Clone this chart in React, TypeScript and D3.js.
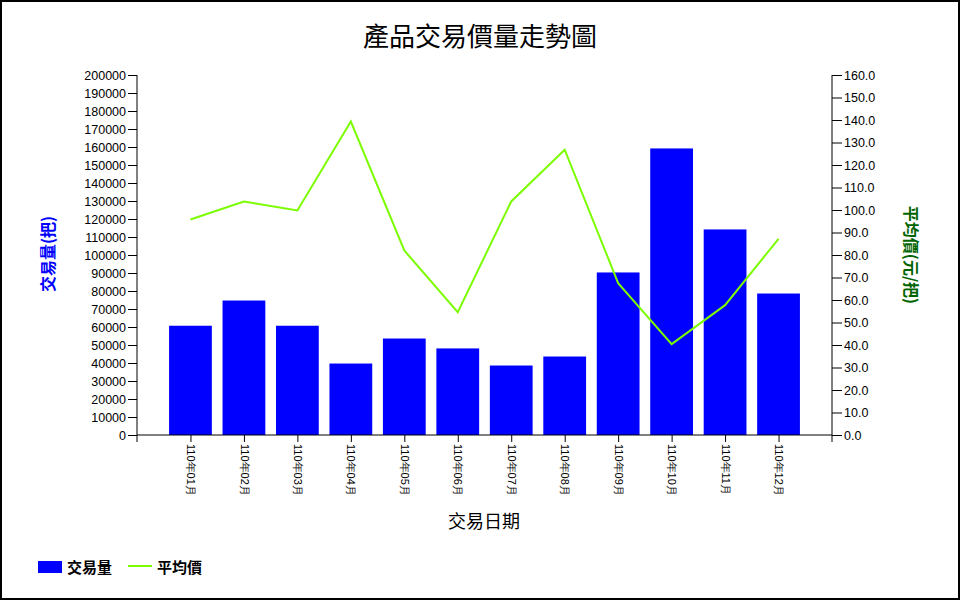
import React, { useEffect, useRef } from 'react';
import * as d3 from 'd3';

// monthly data
const months = ['110年01月', '110年02月', '110年03月', '110年04月', '110年05月', '110年06月',
  '110年07月', '110年08月', '110年09月', '110年10月', '110年11月', '110年12月'];
const volumes = [60700, 74700, 60700, 39700, 53600, 48100, 38600, 43600, 90300, 159200, 114200, 78600];
const prices = [95.8, 103.8, 99.8, 139.3, 82.0, 54.6, 103.8, 126.8, 67.5, 40.4, 57.7, 87.2];
const volTicks = d3.range(0, 200001, 10000);
const priceTicks = d3.range(0, 161, 10);

const App: React.FC = () => {
  const svgRef = useRef<SVGSVGElement>(null);

  useEffect(() => {
    if (!svgRef.current) return;
    const width = 960;
    const height = 600;
    const svg = d3.select(svgRef.current);
    svg.selectAll('*').remove();

    const left = 137;
    const right = 832;
    const top = 75;
    const bottom = 435;
    const numFont = '"Liberation Sans", Arial, sans-serif';
    const cjkFont = '"Noto Sans CJK TC", "Noto Sans CJK SC", sans-serif';

    svg.append('rect')
      .attr('x', 1).attr('y', 1)
      .attr('width', width - 2).attr('height', height - 2)
      .attr('fill', '#fff')
      .attr('stroke', '#000')
      .attr('stroke-width', 2);

    // 13 intervals, months sit on positions 1..12
    const x = d3.scaleLinear().domain([0, 13]).range([left, right]);
    const step = x(1) - x(0);
    const yVol = d3.scaleLinear().domain([0, 200000]).range([bottom, top]);
    const yPrice = d3.scaleLinear().domain([0, 160]).range([bottom, top]);

    // bars
    svg.append('g')
      .selectAll('rect')
      .data(volumes)
      .join('rect')
      .attr('x', (_, i) => x(i + 1) - step * 0.4)
      .attr('width', step * 0.8)
      .attr('y', d => yVol(d))
      .attr('height', d => yVol(0) - yVol(d))
      .attr('fill', '#0000ff');

    // price line
    const line = d3.line<number>()
      .x((_, i) => x(i + 1))
      .y(d => yPrice(d));
    svg.append('path')
      .datum(prices)
      .attr('d', line)
      .attr('fill', 'none')
      .attr('stroke', '#7cfc00')
      .attr('stroke-width', 2);

    // left axis
    const leftAxis = svg.append('g')
      .attr('transform', `translate(${left},0)`)
      .call(d3.axisLeft(yVol).tickValues(volTicks).tickFormat(d3.format('d')).tickSize(9).tickPadding(2).tickSizeOuter(0));
    leftAxis.select('.domain').attr('d', `M0,${top}V${bottom + 7}`);

    // right axis
    const rightAxis = svg.append('g')
      .attr('transform', `translate(${right},0)`)
      .call(d3.axisRight(yPrice).tickValues(priceTicks).tickFormat(d3.format('.1f')).tickSize(10).tickPadding(2).tickSizeOuter(0));
    rightAxis.select('.domain').attr('d', `M0,${top}V${bottom + 7}`);

    // bottom axis
    const bottomAxis = svg.append('g')
      .attr('transform', `translate(0,${bottom})`)
      .call(d3.axisBottom(x).tickValues(d3.range(1, 13)).tickFormat((_, i) => months[i]).tickSize(7).tickSizeOuter(0));
    bottomAxis.select('.domain').attr('d', `M${left},0H${right}`);
    bottomAxis.selectAll('.tick text')
      .attr('transform', 'rotate(90)')
      .attr('x', 9)
      .attr('y', 0)
      .attr('dy', '0.35em')
      .attr('text-anchor', 'start')
      .style('font-size', '11px');

    svg.selectAll('.tick text')
      .attr('fill', '#000')
      .style('font-family', numFont);
    leftAxis.selectAll('.tick text').style('font-size', '12.5px');
    rightAxis.selectAll('.tick text').style('font-size', '12.5px');
    svg.selectAll('.tick line, .domain').attr('stroke', '#000');

    // titles
    svg.append('text')
      .attr('x', 480).attr('y', 34)
      .attr('text-anchor', 'middle')
      .attr('dominant-baseline', 'central')
      .style('font-family', cjkFont)
      .style('font-size', '26px')
      .text('產品交易價量走勢圖');

    svg.append('text')
      .attr('x', 484).attr('y', 520)
      .attr('text-anchor', 'middle')
      .attr('dominant-baseline', 'central')
      .style('font-family', cjkFont)
      .style('font-size', '18px')
      .text('交易日期');

    svg.append('text')
      .attr('transform', 'translate(47,254) rotate(-90)')
      .attr('text-anchor', 'middle')
      .attr('dominant-baseline', 'central')
      .attr('fill', '#0000ff')
      .style('font-family', cjkFont)
      .style('font-size', '16px')
      .style('font-weight', 'bold')
      .text('交易量(把)');

    svg.append('text')
      .attr('transform', 'translate(912,255) rotate(90)')
      .attr('text-anchor', 'middle')
      .attr('dominant-baseline', 'central')
      .attr('fill', '#006400')
      .style('font-family', cjkFont)
      .style('font-size', '16px')
      .style('font-weight', 'bold')
      .text('平均價(元/把)');

    // legend
    const legend = svg.append('g');
    legend.append('rect')
      .attr('x', 38).attr('y', 561)
      .attr('width', 24).attr('height', 12)
      .attr('fill', '#0000ff');
    legend.append('text')
      .attr('x', 67).attr('y', 566)
      .attr('dominant-baseline', 'central')
      .style('font-family', cjkFont)
      .style('font-size', '15px')
      .style('font-weight', 'bold')
      .text('交易量');
    legend.append('line')
      .attr('x1', 128).attr('x2', 152)
      .attr('y1', 566).attr('y2', 566)
      .attr('stroke', '#7cfc00')
      .attr('stroke-width', 2);
    legend.append('text')
      .attr('x', 157).attr('y', 566)
      .attr('dominant-baseline', 'central')
      .style('font-family', cjkFont)
      .style('font-size', '15px')
      .style('font-weight', 'bold')
      .text('平均價');
  }, []);

  return (
    <div style={{ position: 'absolute', left: 0, top: 0 }}>
      <svg ref={svgRef} width="960" height="600" viewBox="0 0 960 600" style={{ display: 'block' }}></svg>
    </div>
  );
};

export default App;
